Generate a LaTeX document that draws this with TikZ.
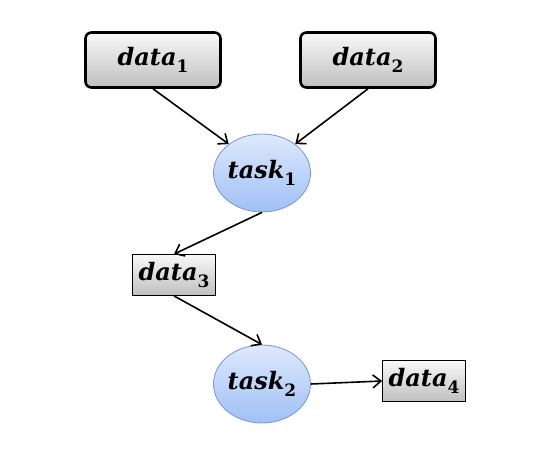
\documentclass[tikz,border=0pt]{standalone}
\usepackage{fontspec}
\setmainfont{DejaVu Serif}
\usetikzlibrary{positioning}
\usetikzlibrary{arrows.meta}
\usetikzlibrary{shapes}
\definecolor{tasktop}{RGB}{222,233,252}
\definecolor{taskbot}{RGB}{160,192,245}
\definecolor{taskrim}{RGB}{120,150,205}
\tikzset{
	every node/.style={align=center,font=\fontsize{24}{28}\selectfont\bfseries\itshape},
	flow/.style={line width=1.6pt, -{Straight Barb[length=8pt,width=13pt,line width=1.6pt]}},
	source/.style={rectangle, rounded corners=6pt, draw, line width=2.6pt, minimum width=135pt, minimum height=55pt, top color=gray!5, bottom color=gray!50},
	store/.style={rectangle, draw, line width=0.8pt, minimum width=83pt, minimum height=41pt, inner sep=1pt, top color=gray!5, bottom color=gray!50},
	task/.style={ellipse, draw=taskrim, line width=0.8pt, minimum width=93pt, minimum height=78pt, inner sep=0pt, top color=tasktop, bottom color=taskbot}
}
\newcommand{\sbs}[2]{#1\raisebox{-0.3em}{\fontsize{17}{20}\selectfont\upshape #2}}

\begin{document}
\begin{tikzpicture}[x=1pt,y=-1pt]
	\useasboundingbox (0,0) rectangle (551,457);

	\node (d1) [source] at (153,60) {\sbs{data}{1}};
	\node (d2) [source] at (368,60) {\sbs{data}{2}};
	\node (t1) [task] at (262,173) {\sbs{task}{1}};
	\node (d3) [store] at (174,275) {\sbs{data}{3}};
	\node (t2) [task] at (262,384) {\sbs{task}{2}};
	\node (d4) [store] at (424,381) {\sbs{data}{4}};

	\draw[flow] (d1.south) -- (t1.139);
	\draw[flow] (d2.south) -- (t1.41);
	\draw[flow] (t1.south) -- (d3.north);
	\draw[flow] (d3.south) -- (t2.north);
	\draw[flow] (t2.east) -- (d4.west);
\end{tikzpicture}
\end{document}
